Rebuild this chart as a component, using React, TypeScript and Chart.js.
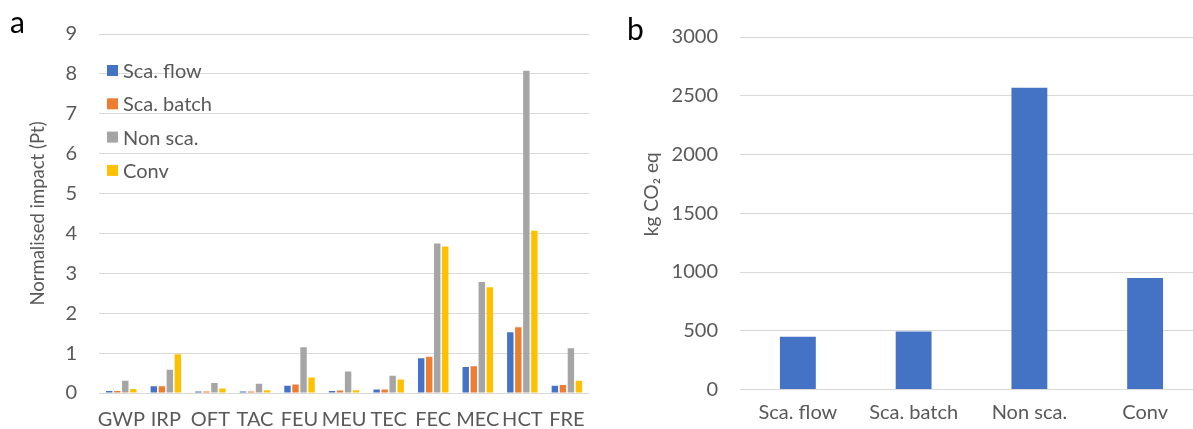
import React, { useEffect, useRef } from 'react';
import { Chart, registerables } from 'chart.js';

Chart.register(...registerables);

// ---------- data ----------
const categoriesA = ['GWP', 'IRP', 'OFT', 'TAC', 'FEU', 'MEU', 'TEC', 'FEC', 'MEC', 'HCT', 'FRE'];
const seriesNames = ['Sca. flow', 'Sca. batch', 'Non sca.', 'Conv'];
const scaFlow = [0.05, 0.17, 0.04, 0.04, 0.18, 0.05, 0.09, 0.87, 0.65, 1.52, 0.18];
const scaBatch = [0.05, 0.17, 0.04, 0.04, 0.21, 0.06, 0.09, 0.91, 0.67, 1.65, 0.2];
const nonSca = [0.31, 0.58, 0.25, 0.23, 1.15, 0.54, 0.43, 3.75, 2.78, 8.08, 1.12];
const conv = [0.1, 0.97, 0.11, 0.07, 0.39, 0.07, 0.34, 3.67, 2.65, 4.07, 0.31];
const yTicksA = [0, 1, 2, 3, 4, 5, 6, 7, 8, 9];

const categoriesB = ['Sca. flow', 'Sca. batch', 'Non sca.', 'Conv'];
const co2Values = [450, 493, 2568, 948];
const yTicksB = [0, 500, 1000, 1500, 2000, 2500, 3000];

const seriesColors = ['#4472C4', '#ED7D31', '#A5A5A5', '#FFC000'];
const TEXT = '#595959';
const GRID = '#D9D9D9';
const FONT_FAMILY = 'Lato';
const TICK_SIZE = 20;

const insideLegend = {
  id: 'insideLegend',
  afterDraw(chart: any) {
    const { ctx, chartArea } = chart;
    ctx.save();
    ctx.font = `20px ${FONT_FAMILY}`;
    ctx.textBaseline = 'middle';
    ctx.textAlign = 'left';
    chart.data.datasets.forEach((ds: any, i: number) => {
      const cy = chartArea.top + 36.5 + i * 33.3;
      ctx.fillStyle = ds.backgroundColor;
      ctx.fillRect(chartArea.left + 8, cy - 5.5, 11, 11);
      ctx.fillStyle = TEXT;
      ctx.fillText(ds.label, chartArea.left + 24, cy + 1);
    });
    ctx.restore();
  },
};

function makeChartA(canvas: HTMLCanvasElement) {
  const seriesData = [scaFlow, scaBatch, nonSca, conv];
  return new Chart(canvas, {
    type: 'bar',
    data: {
      labels: categoriesA,
      datasets: seriesNames.map((name, i) => ({
        label: name,
        data: seriesData[i],
        backgroundColor: seriesColors[i],
        borderWidth: 0,
      })),
    },
    plugins: [insideLegend],
    options: {
      animation: false,
      responsive: false,
      maintainAspectRatio: false,
      layout: { padding: { left: 0, top: 32, right: 9, bottom: 0 } },
      datasets: { bar: { categoryPercentage: 0.72, barPercentage: 0.8 } },
      plugins: { legend: { display: false }, tooltip: { enabled: false } },
      scales: {
        x: {
          grid: { display: false, drawTicks: false },
          border: { display: false },
          ticks: {
            color: TEXT,
            font: { family: FONT_FAMILY, size: TICK_SIZE },
            padding: 15,
            autoSkip: false,
            maxRotation: 0,
            minRotation: 0,
          },
          afterFit: (s: any) => {
            s.height = 36;
          },
        },
        y: {
          min: yTicksA[0],
          max: yTicksA[yTicksA.length - 1],
          afterBuildTicks: (s: any) => {
            s.ticks = yTicksA.map((v) => ({ value: v }));
          },
          grid: { color: GRID, drawTicks: false, lineWidth: 1 },
          border: { display: false },
          ticks: {
            color: TEXT,
            font: { family: FONT_FAMILY, size: TICK_SIZE },
            padding: 22,
            callback: (v: any) => String(v),
          },
          title: {
            display: true,
            text: 'Normalised impact (Pt)',
            color: TEXT,
            font: { family: FONT_FAMILY, size: 18.5 },
            padding: { top: 27, bottom: 0 },
          },
          afterFit: (s: any) => {
            s.width = 99;
          },
        },
      },
    },
  } as any);
}

function makeChartB(canvas: HTMLCanvasElement) {
  return new Chart(canvas, {
    type: 'bar',
    data: {
      labels: categoriesB,
      datasets: [
        {
          label: 'kg CO2 eq',
          data: co2Values,
          backgroundColor: seriesColors[0],
          borderWidth: 0,
          categoryPercentage: 1,
          barPercentage: 0.31,
        },
      ],
    },
    options: {
      animation: false,
      responsive: false,
      maintainAspectRatio: false,
      layout: { padding: { left: 0, top: 37, right: 17, bottom: 0 } },
      plugins: { legend: { display: false }, tooltip: { enabled: false } },
      scales: {
        x: {
          grid: { display: false, drawTicks: false },
          border: { display: false },
          ticks: {
            color: TEXT,
            font: { family: FONT_FAMILY, size: TICK_SIZE },
            padding: 11,
            autoSkip: false,
            maxRotation: 0,
            minRotation: 0,
          },
          afterFit: (s: any) => {
            s.height = 39.5;
          },
        },
        y: {
          min: yTicksB[0],
          max: yTicksB[yTicksB.length - 1],
          afterBuildTicks: (s: any) => {
            s.ticks = yTicksB.map((v) => ({ value: v }));
          },
          grid: { color: GRID, drawTicks: false, lineWidth: 1 },
          border: { display: false },
          ticks: {
            color: TEXT,
            font: { family: FONT_FAMILY, size: TICK_SIZE },
            padding: 22,
            callback: (v: any) => String(v),
          },
          title: {
            display: true,
            // leading en-spaces lift the visible label above the axis centre, as in the reference
            text: '\u2002\u2002\u2002\u2002kg CO\u2082 eq',
            color: TEXT,
            font: { family: FONT_FAMILY, size: 19 },
            padding: { top: 40, bottom: 0 },
          },
          afterFit: (s: any) => {
            s.width = 140;
          },
        },
      },
    },
  } as any);
}

export default function App() {
  const refA = useRef<HTMLCanvasElement | null>(null);
  const refB = useRef<HTMLCanvasElement | null>(null);

  useEffect(() => {
    let chartA: any = null;
    let chartB: any = null;
    let cancelled = false;
    const build = () => {
      if (cancelled) return;
      if (refA.current) chartA = makeChartA(refA.current);
      if (refB.current) chartB = makeChartB(refB.current);
    };
    const fontsApi = (document as any).fonts;
    if (fontsApi && fontsApi.load) {
      Promise.all([
        fontsApi.load(`20px ${FONT_FAMILY}`),
        fontsApi.load(`30px ${FONT_FAMILY}`),
      ])
        .catch(() => null)
        .then(build);
    } else {
      build();
    }
    return () => {
      cancelled = true;
      if (chartA) chartA.destroy();
      if (chartB) chartB.destroy();
    };
  }, []);

  const letterStyle: React.CSSProperties = {
    position: 'absolute',
    fontFamily: FONT_FAMILY,
    fontSize: 30,
    lineHeight: '30px',
    color: '#000',
  };

  return (
    <div
      style={{
        position: 'absolute',
        left: 0,
        top: 0,
        width: 1193,
        height: 429,
        overflow: 'hidden',
        background: '#fff',
      }}
    >
      <div style={{ position: 'absolute', left: 0, top: 0, width: 600, height: 429 }}>
        <canvas ref={refA} width={600} height={429} style={{ width: 600, height: 429, display: 'block' }} />
      </div>
      <div style={{ position: 'absolute', left: 600, top: 0, width: 620, height: 429 }}>
        <canvas ref={refB} width={620} height={429} style={{ width: 620, height: 429, display: 'block' }} />
      </div>
      <div style={{ ...letterStyle, left: 10, top: 6 }}>a</div>
      <div style={{ ...letterStyle, left: 627, top: 13 }}>b</div>
    </div>
  );
}
